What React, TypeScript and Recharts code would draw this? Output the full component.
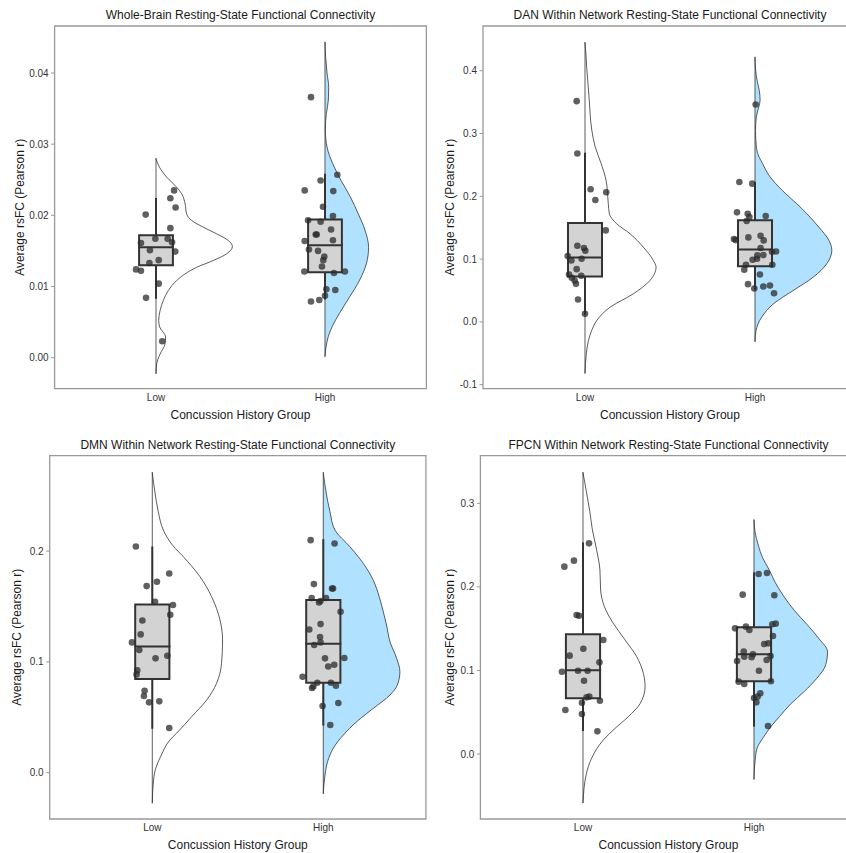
import React from 'react';
import { ComposedChart, Scatter, XAxis, YAxis, ReferenceArea, Curve } from 'recharts';

const groups = ['Low', 'High'];

// box stats: [lower whisker, q1, median, q3, upper whisker]

// Whole-brain
const wbLowVals = [0.0201, 0.0235, 0.0224, 0.0211, 0.0182, 0.0161, 0.0167, 0.0167, 0.0162, 0.0151, 0.0149, 0.0137, 0.0133, 0.0124, 0.0122, 0.0104, 0.0084, 0.0023];
const wbLowJit = [-0.061, 0.107, 0.085, 0.116, 0.085, -0.089, -0.004, 0.069, 0.095, -0.036, 0.114, 0.016, -0.039, -0.118, -0.089, 0.016, -0.059, 0.037];
const wbHighVals = [0.0366, 0.0257, 0.0249, 0.0235, 0.0234, 0.0212, 0.0199, 0.0193, 0.0191, 0.018, 0.0173, 0.0173, 0.0165, 0.0164, 0.0152, 0.015, 0.0142, 0.0137, 0.0128, 0.0121, 0.0119, 0.0121, 0.0096, 0.0095, 0.0087, 0.0081, 0.0079];
const wbHighJit = [-0.083, 0.073, -0.026, -0.12, 0.049, -0.012, 0.047, -0.1, -0.026, 0.036, -0.049, -0.055, 0.047, -0.12, -0.095, -0.041, -0.004, -0.01, -0.018, -0.122, 0.053, 0.118, 0.008, 0.061, 0, -0.034, -0.083];
const wbLowBox = [0.0084, 0.013, 0.0155, 0.0172, 0.0223];
const wbHighBox = [0.0083, 0.012, 0.0158, 0.0194, 0.0257];
const wbLowDensY = [0.02795, 0.02678, 0.02537, 0.02396, 0.02303, 0.02162, 0.02021, 0.01927, 0.01833, 0.0174, 0.01646, 0.01562, 0.01459, 0.01365, 0.0127, 0.01177, 0.01083, 0.00943, 0.00802, 0.00661, 0.0052, 0.0043, 0.0029, 0.0019, 0.0005, -0.0009, -0.0022];
const wbLowDensW = [0, 0.02, 0.063, 0.122, 0.152, 0.172, 0.181, 0.211, 0.28, 0.359, 0.428, 0.452, 0.418, 0.339, 0.241, 0.172, 0.122, 0.073, 0.043, 0.024, 0.016, 0.022, 0.057, 0.053, 0.024, 0.004, 0];
const wbHighDensY = [0.0443, 0.0422, 0.04, 0.038, 0.0362, 0.0343, 0.032, 0.0296, 0.0273, 0.0249, 0.0226, 0.0202, 0.0179, 0.0155, 0.0132, 0.0109, 0.0085, 0.0062, 0.0045, 0.003, 0.0015, 0.0002];
const wbHighDensW = [0, 0.004, 0.012, 0.022, 0.02, 0.008, 0.002, 0.012, 0.045, 0.095, 0.15, 0.197, 0.237, 0.258, 0.245, 0.205, 0.145, 0.085, 0.045, 0.02, 0.006, 0];

// DAN
const danLowVals = [0.3516, 0.2681, 0.2112, 0.1941, 0.2064, 0.1457, 0.1213, 0.1176, 0.1133, 0.1048, 0.0979, 0.1005, 0.084, 0.0755, 0.0702, 0.0734, 0.066, 0.0606, 0.0356, 0.0128];
const danLowJit = [-0.049, -0.045, 0.033, 0.061, 0.125, 0.122, -0.045, -0.006, 0.002, -0.102, -0.08, -0.02, -0.049, -0.094, -0.078, -0.022, -0.061, -0.053, -0.041, 0];
const danHighVals = [0.3463, 0.2229, 0.2202, 0.1745, 0.1723, 0.167, 0.1686, 0.1606, 0.1319, 0.1303, 0.1346, 0.1372, 0.1298, 0.1176, 0.1059, 0.1122, 0.1117, 0.1064, 0.0989, 0.1005, 0.091, 0.091, 0.083, 0.0755, 0.0601, 0.0532, 0.0564, 0.058, 0.0457];
const danHighJit = [0.004, -0.092, -0.016, -0.106, -0.043, -0.033, 0.063, -0.049, -0.124, -0.114, -0.039, 0.033, 0.051, 0.033, 0.014, 0.124, 0.1, 0.049, -0.014, 0.012, -0.053, 0.102, -0.063, 0.029, -0.041, -0.004, 0.049, 0.088, 0.112];
const danLowBox = [0.0128, 0.0723, 0.1027, 0.1574, 0.268];
const danHighBox = [0.0527, 0.0888, 0.1154, 0.1617, 0.221];
const danLowDensY = [0.4447, 0.425, 0.405, 0.385, 0.353, 0.3053, 0.2787, 0.2521, 0.2255, 0.1883, 0.1723, 0.1564, 0.1404, 0.1191, 0.0978, 0.0872, 0.0659, 0.0447, 0.0233, 0.0021, -0.0139, -0.03, -0.05, -0.0814];
const danLowDensW = [0, 0.006, 0.01, 0.016, 0.025, 0.04, 0.06, 0.095, 0.124, 0.137, 0.143, 0.186, 0.265, 0.343, 0.402, 0.418, 0.382, 0.284, 0.147, 0.069, 0.039, 0.02, 0.008, 0];
const danHighDensY = [0.4213, 0.4, 0.385, 0.369, 0.353, 0.342, 0.3266, 0.305, 0.2787, 0.262, 0.2521, 0.2362, 0.2255, 0.2043, 0.1883, 0.1723, 0.1511, 0.1298, 0.1138, 0.0926, 0.0713, 0.05, 0.0287, 0.0074, -0.0138, -0.0309];
const danHighDensW = [0, 0.004, 0.012, 0.025, 0.03, 0.022, 0.008, 0.003, 0.008, 0.025, 0.045, 0.075, 0.105, 0.18, 0.245, 0.305, 0.375, 0.435, 0.452, 0.422, 0.343, 0.225, 0.108, 0.039, 0.006, 0];

// DMN
const dmnLowVals = [0.2042, 0.1798, 0.1723, 0.1684, 0.1543, 0.1513, 0.1426, 0.1374, 0.1248, 0.1176, 0.1107, 0.1032, 0.1056, 0.0923, 0.0887, 0.074, 0.0692, 0.0635, 0.0644, 0.0403];
const dmnLowJit = [-0.096, 0.099, 0.027, -0.033, 0.016, 0.121, 0.105, -0.058, -0.068, -0.119, -0.076, 0.019, 0.088, -0.088, -0.092, -0.045, -0.049, -0.019, 0.041, 0.099];
const dmnHighVals = [0.2099, 0.2069, 0.1702, 0.1663, 0.1663, 0.1576, 0.1537, 0.1549, 0.1576, 0.1453, 0.1341, 0.1293, 0.1224, 0.1176, 0.1152, 0.1032, 0.1035, 0.0959, 0.0974, 0.0866, 0.0779, 0.0812, 0.0764, 0.0812, 0.0785, 0.0602, 0.0629, 0.043];
const dmnHighJit = [-0.074, 0.066, -0.055, 0.051, 0.057, -0.068, -0.025, -0.016, 0.016, 0.101, -0.016, -0.082, -0.019, -0.016, -0.053, 0.01, 0.123, 0.029, 0.064, -0.121, -0.058, -0.035, -0.066, 0.045, 0.074, -0.004, 0.088, 0.041];
const dmnLowBox = [0.0406, 0.0845, 0.114, 0.1519, 0.2033];
const dmnHighBox = [0.0436, 0.0812, 0.1164, 0.1558, 0.2099];
const dmnLowDensY = [0.2707, 0.2535, 0.2355, 0.2191, 0.205, 0.195, 0.1769, 0.1588, 0.1378, 0.1198, 0.0987, 0.0807, 0.0656, 0.0505, 0.0356, 0.0295, 0.015, 0.004, -0.011, -0.0271];
const dmnLowDensW = [0, 0.015, 0.035, 0.064, 0.12, 0.181, 0.279, 0.347, 0.396, 0.411, 0.405, 0.376, 0.318, 0.23, 0.142, 0.103, 0.05, 0.02, 0.005, 0];
const dmnHighDensY = [0.2707, 0.2535, 0.2355, 0.219, 0.2039, 0.1889, 0.1738, 0.1588, 0.1453, 0.1332, 0.1182, 0.1032, 0.0911, 0.0791, 0.0701, 0.058, 0.046, 0.034, 0.022, 0.0099, -0.0021, -0.0186];
const dmnHighDensW = [0, 0.016, 0.039, 0.068, 0.156, 0.234, 0.292, 0.327, 0.351, 0.37, 0.39, 0.429, 0.448, 0.433, 0.39, 0.292, 0.195, 0.117, 0.058, 0.025, 0.01, 0];

// FPCN
const fpLowVals = [0.2521, 0.2314, 0.2242, 0.1663, 0.1655, 0.1364, 0.126, 0.1177, 0.1097, 0.0985, 0.0997, 0.0997, 0.0877, 0.0678, 0.0686, 0.0614, 0.0638, 0.0527, 0.0479, 0.0271];
const fpLowJit = [0.035, -0.053, -0.109, -0.037, -0.023, 0.119, 0.002, -0.078, 0.096, -0.123, -0.029, 0.027, 0.006, 0.021, 0.037, -0.006, 0.099, -0.103, -0.006, 0.084];
const fpHighVals = [0.2154, 0.2166, 0.1907, 0.1899, 0.1504, 0.1524, 0.1484, 0.1552, 0.156, 0.1412, 0.1316, 0.1324, 0.1225, 0.1193, 0.1157, 0.1165, 0.1173, 0.1113, 0.1125, 0.0997, 0.0866, 0.0838, 0.087, 0.0726, 0.067, 0.0618, 0.0686, 0.0335];
const fpHighJit = [0.027, 0.076, -0.066, 0.119, -0.111, -0.047, -0.027, 0.107, 0.127, 0.111, 0.06, 0.084, -0.06, -0.006, -0.014, -0.057, 0.097, -0.099, 0.074, 0.029, -0.09, -0.057, 0.099, 0.037, 0, 0.014, 0.021, 0.082];
const fpLowBox = [0.0287, 0.0666, 0.1001, 0.1432, 0.2521];
const fpHighBox = [0.034, 0.087, 0.1193, 0.1516, 0.2162];
const fpLowDensY = [0.3367, 0.3139, 0.29, 0.2681, 0.2441, 0.2202, 0.1963, 0.1764, 0.1564, 0.1365, 0.1165, 0.0966, 0.0806, 0.0606, 0.0447, 0.0287, 0.0168, -0.0052, -0.0251, -0.0582];
const fpLowDensW = [0, 0.02, 0.04, 0.055, 0.08, 0.099, 0.103, 0.125, 0.177, 0.246, 0.314, 0.353, 0.363, 0.335, 0.265, 0.177, 0.119, 0.05, 0.018, 0];
const fpHighDensY = [0.28, 0.266, 0.25, 0.235, 0.22, 0.205, 0.19, 0.172, 0.155, 0.138, 0.1225, 0.107, 0.09, 0.075, 0.06, 0.045, 0.033, 0.02, 0.008, -0.005, -0.0299];
const fpHighDensW = [0, 0.006, 0.025, 0.05, 0.09, 0.125, 0.17, 0.235, 0.31, 0.38, 0.43, 0.42, 0.365, 0.295, 0.215, 0.15, 0.1, 0.055, 0.02, 0.008, 0];

type Group = { vals: number[]; jit: number[]; box: number[]; densY: number[]; densW: number[]; fill: string };
type Pt = { x: number; y: number };

const BOX_HALF = 0.1;

const seg = (a: Pt, b: Pt) => [a, b];

const pathLine = (type: string, stroke: string, strokeWidth: number, fill = 'none') => (p: any) => (
  <Curve points={p.points} type={type as any} stroke={stroke} strokeWidth={strokeWidth} fill={fill} strokeLinecap="square" />
);

const noDot = () => <g />;

const dot = (p: any) => <circle cx={p.cx} cy={p.cy} r={3.3} fill="#2b2b2b" fillOpacity={0.75} />;

function groupSeries(g: Group, c: number) {
  const violin = g.densY.map((y, i) => ({ x: c + g.densW[i], y }));
  const spine = seg({ x: c, y: g.densY[0] }, { x: c, y: g.densY[g.densY.length - 1] });
  const [lo, q1, med, q3, hi] = g.box;
  const box = [
    { x: c - BOX_HALF, y: q1 }, { x: c + BOX_HALF, y: q1 }, { x: c + BOX_HALF, y: q3 },
    { x: c - BOX_HALF, y: q3 }, { x: c - BOX_HALF, y: q1 },
  ];
  const median = seg({ x: c - BOX_HALF, y: med }, { x: c + BOX_HALF, y: med });
  const upper = seg({ x: c, y: q3 }, { x: c, y: hi });
  const lower = seg({ x: c, y: lo }, { x: c, y: q1 });
  const pts = g.vals.map((v, i) => ({ x: c + g.jit[i], y: v }));
  const k = groups[c - 1];
  return [
    <Scatter key={k + 'v'} data={violin} line={pathLine('monotoneY', '#333', 0.8, g.fill)} shape={noDot} isAnimationActive={false} />,
    <Scatter key={k + 's'} data={spine} line={pathLine('linear', '#333', 0.8)} shape={noDot} isAnimationActive={false} />,
    <Scatter key={k + 'u'} data={upper} line={pathLine('linear', '#333', 2)} shape={noDot} isAnimationActive={false} />,
    <Scatter key={k + 'l'} data={lower} line={pathLine('linear', '#333', 2)} shape={noDot} isAnimationActive={false} />,
    <Scatter key={k + 'b'} data={box} line={pathLine('linear', '#333', 2, '#d3d3d3')} shape={noDot} isAnimationActive={false} />,
    <Scatter key={k + 'm'} data={median} line={pathLine('linear', '#333', 2)} shape={noDot} isAnimationActive={false} />,
    <Scatter key={k + 'p'} data={pts} shape={dot} isAnimationActive={false} />,
  ];
}

type PanelProps = {
  title: string;
  left: number; top: number;
  plotLeft: number; plotRight: number; plotTop: number; plotBottom: number;
  domain: [number, number]; ticks: number[]; digits: number;
  yTitleX: number; xTitleOffset: number;
  low: Group; high: Group;
};

const X_AXIS_H = 36;

function Panel(p: PanelProps) {
  const width = p.plotRight - p.left + 4;
  const height = p.plotBottom - p.top + X_AXIS_H;
  return (
    <div style={{ position: 'absolute', left: p.left, top: p.top, width, height }}>
      <div style={{
        position: 'absolute', left: p.plotLeft - p.left, width: p.plotRight - p.plotLeft,
        top: p.plotTop - p.top - 18, fontSize: 12, lineHeight: '14px', textAlign: 'center', color: '#1a1a1a',
      }}>{p.title}</div>
      <ComposedChart width={width} height={height} margin={{ top: p.plotTop - p.top, right: 4, left: 0, bottom: 0 }}>
        <XAxis
          type="number" dataKey="x" domain={[0.4, 2.6]} ticks={[1, 2]} interval={0} allowDataOverflow
          tickFormatter={(v: number) => groups[v - 1]}
          axisLine={false} tickLine={false} tickSize={3.5} tickMargin={1.5} height={X_AXIS_H}
          tick={{ fontSize: 10, fill: '#333' }}
          label={{ value: 'Concussion History Group', position: 'insideBottom', offset: p.xTitleOffset, fontSize: 12, fill: '#1a1a1a' }}
        />
        <YAxis
          type="number" dataKey="y" domain={p.domain} ticks={p.ticks} interval={0} allowDataOverflow
          tickFormatter={(v: number) => v.toFixed(p.digits)}
          axisLine={false} tickLine={{ stroke: '#999' }} tickSize={3.5} tickMargin={2.5} width={p.plotLeft - p.left}
          tick={{ fontSize: 10, fill: '#333' }}
          label={{ value: 'Average rsFC (Pearson r)', angle: -90, position: 'insideLeft', offset: p.yTitleX - p.left, style: { textAnchor: 'middle' }, fontSize: 12, fill: '#1a1a1a' }}
        />
        {groupSeries(p.low, 1)}
        {groupSeries(p.high, 2)}
        <ReferenceArea x1={0.4} x2={2.6} y1={p.domain[0]} y2={p.domain[1]} fill="none" stroke="#999" strokeWidth={1.3} ifOverflow="visible" />
      </ComposedChart>
    </div>
  );
}

const BLUE = '#b0e2ff';

export default function App() {
  return (
    <div style={{
      position: 'absolute', left: 0, top: 0, width: 846, height: 853, overflow: 'hidden', background: '#fff',
      fontFamily: '"Liberation Sans", Arial, sans-serif',
    }}>
      <Panel
        title="Whole-Brain Resting-State Functional Connectivity"
        left={0} top={0} plotLeft={54.6} plotRight={426.4} plotTop={26} plotBottom={388.7}
        domain={[-0.00436, 0.0466]} ticks={[0, 0.01, 0.02, 0.03, 0.04]} digits={2}
        yTitleX={20} xTitleOffset={5.4}
        low={{ vals: wbLowVals, jit: wbLowJit, box: wbLowBox, densY: wbLowDensY, densW: wbLowDensW, fill: 'none' }}
        high={{ vals: wbHighVals, jit: wbHighJit, box: wbHighBox, densY: wbHighDensY, densW: wbHighDensW, fill: BLUE }}
      />
      <Panel
        title="DAN Within Network Resting-State Functional Connectivity"
        left={423} top={0} plotLeft={483} plotRight={857} plotTop={26} plotBottom={388.7}
        domain={[-0.1064, 0.4713]} ticks={[-0.1, 0, 0.1, 0.2, 0.3, 0.4]} digits={1}
        yTitleX={449.7} xTitleOffset={5.4}
        low={{ vals: danLowVals, jit: danLowJit, box: danLowBox, densY: danLowDensY, densW: danLowDensW, fill: 'none' }}
        high={{ vals: danHighVals, jit: danHighJit, box: danHighBox, densY: danHighDensY, densW: danHighDensW, fill: BLUE }}
      />
      <Panel
        title="DMN Within Network Resting-State Functional Connectivity"
        left={0} top={430} plotLeft={49.7} plotRight={425.9} plotTop={455.7} plotBottom={819}
        domain={[-0.0418, 0.2861]} ticks={[0, 0.1, 0.2]} digits={1}
        yTitleX={16.7} xTitleOffset={6.4}
        low={{ vals: dmnLowVals, jit: dmnLowJit, box: dmnLowBox, densY: dmnLowDensY, densW: dmnLowDensW, fill: 'none' }}
        high={{ vals: dmnHighVals, jit: dmnHighJit, box: dmnHighBox, densY: dmnHighDensY, densW: dmnHighDensW, fill: BLUE }}
      />
      <Panel
        title="FPCN Within Network Resting-State Functional Connectivity"
        left={423} top={430} plotLeft={480.4} plotRight={856.6} plotTop={455.7} plotBottom={819}
        domain={[-0.0778, 0.357]} ticks={[0, 0.1, 0.2, 0.3]} digits={1}
        yTitleX={449.7} xTitleOffset={6.4}
        low={{ vals: fpLowVals, jit: fpLowJit, box: fpLowBox, densY: fpLowDensY, densW: fpLowDensW, fill: 'none' }}
        high={{ vals: fpHighVals, jit: fpHighJit, box: fpHighBox, densY: fpHighDensY, densW: fpHighDensW, fill: BLUE }}
      />
    </div>
  );
}
